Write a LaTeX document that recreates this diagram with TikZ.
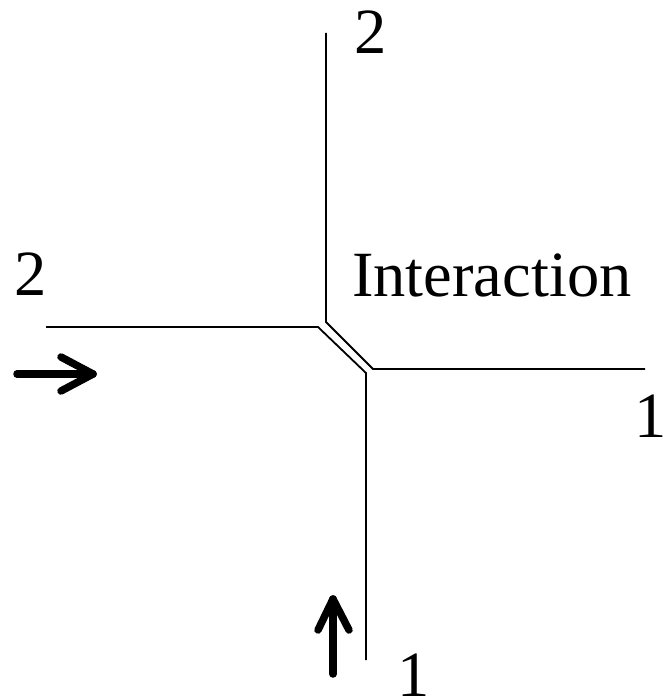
\documentclass[tikz,border=0pt]{standalone}
\usepackage{fontspec}
\setmainfont{Liberation Serif}
\begin{document}
\begin{tikzpicture}[x=1pt,y=-1pt,
  line/.style={line width=1.8pt},
  bigarrow/.style={line width=7.5pt,line cap=round,line join=round},
  lab/.style={inner sep=0pt,anchor=base west,font=\fontsize{64.5}{70}\selectfont}]
\useasboundingbox (0,0) rectangle (662,698);
% path of particle 2 (left to down)
\coordinate (a1) at (46,327);
\coordinate (a2) at (318,327);
\coordinate (a3) at (366,373);
\coordinate (a4) at (366,660);
% path of particle 1 (top to right)
\coordinate (b1) at (326,33);
\coordinate (b2) at (326,322);
\coordinate (b3) at (373,369);
\coordinate (b4) at (645,369);
\draw[line] (a1) -- (a2) -- (a3) -- (a4);
\draw[line] (b1) -- (b2) -- (b3) -- (b4);
% arrows
\coordinate (r0) at (17,374);
\coordinate (r1) at (93,374);
\coordinate (r2) at (61,357);
\coordinate (r3) at (61,391);
\draw[bigarrow] (r0) -- (r1);
\draw[bigarrow] (r2) -- (r1) -- (r3);
\coordinate (u0) at (333,674);
\coordinate (u1) at (333,599);
\coordinate (u2) at (318,630);
\coordinate (u3) at (349,630);
\draw[bigarrow] (u0) -- (u1);
\draw[bigarrow] (u2) -- (u1) -- (u3);
% labels
\node[lab] (ltop) at (354,54) {2};
\node[lab] (lleft) at (14,295) {2};
\node[lab] (linter) at (352,296) {Interaction};
\node[lab] (lright) at (634,437) {1};
\node[lab] (lbot) at (397,696) {1};
\end{tikzpicture}
\end{document}
